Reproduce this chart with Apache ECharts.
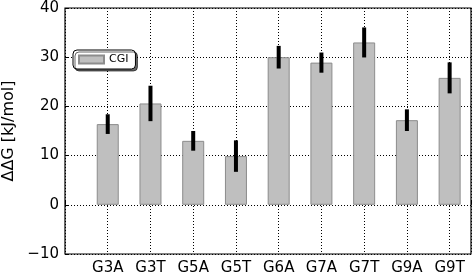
<!DOCTYPE html>
<html>
<head>
<meta charset="utf-8">
<script src="https://cdn.jsdelivr.net/npm/echarts@6/dist/echarts.min.js"></script>
<style>
  html, body { margin: 0; padding: 0; background: #fff; }
  #main { width: 475px; height: 277px; }
</style>
</head>
<body>
<div id="main"></div>
<script>
const categories = ['G3A', 'G3T', 'G5A', 'G5T', 'G6A', 'G7A', 'G7T', 'G9A', 'G9T'];
const values = [16.4, 20.6, 13.0, 9.9, 30.0, 28.9, 33.0, 17.2, 25.8];
const errors = [2.0, 3.6, 2.0, 3.2, 2.3, 2.05, 3.05, 2.2, 3.15];
const yTicks = [-10, 0, 10, 20, 30, 40];

const chartDom = document.getElementById('main');
const myChart = echarts.init(chartDom, null, { renderer: 'canvas' });
const font = 'DejaVu Sans, sans-serif';

const barData = values.map((v, i) => [i + 1, v]);
const errData = values.map((v, i) => [i + 1, v - errors[i], v + errors[i]]);

const option = {
    animation: false,
    grid: {
        left: 65, top: 8, right: 4, bottom: 23,
        outerBoundsMode: 'none',
        containLabel: false,
        show: true,
        borderColor: '#000',
        borderWidth: 1.2
    },
    legend: {
        data: ['CGI'],
        left: 73, top: 50,
        padding: [4, 7, 4, 5],
        itemWidth: 25, itemHeight: 8,
        itemGap: 6,
        backgroundColor: '#fff',
        borderColor: '#000',
        borderWidth: 1,
        borderRadius: 4,
        shadowColor: 'rgba(0,0,0,0.6)',
        shadowOffsetX: 2, shadowOffsetY: 2, shadowBlur: 0,
        icon: 'rect',
        textStyle: { fontFamily: font, fontSize: 11, color: '#000' }
    },
    xAxis: {
        type: 'value',
        min: 0, max: 9.5, interval: 1,
        axisLine: { show: false },
        axisTick: { show: true, inside: true, length: 4, lineStyle: { color: '#000' } },
        splitLine: { show: true, lineStyle: { color: '#000', type: [1, 2], width: 1 } },
        axisLabel: {
            fontFamily: font, fontSize: 15, color: '#000', margin: 7,
            formatter: v => (Number.isInteger(v) && v >= 1 && v <= categories.length) ? categories[v - 1] : ''
        }
    },
    yAxis: {
        type: 'value',
        min: yTicks[0], max: yTicks[yTicks.length - 1], interval: 10,
        name: 'ΔΔG [kJ/mol]',
        nameLocation: 'middle',
        nameGap: 47,
        nameTextStyle: { fontFamily: font, fontSize: 16, color: '#000' },
        axisLine: { show: false },
        axisTick: { show: true, inside: true, length: 4, lineStyle: { color: '#000' } },
        splitLine: { show: true, lineStyle: { color: '#000', type: [1, 2], width: 1 } },
        axisLabel: {
            fontFamily: font, fontSize: 15, color: '#000', margin: 6,
            formatter: v => String(v).replace('-', '\u2212')
        }
    },
    series: [
        {
            name: 'CGI',
            type: 'bar',
            data: barData,
            barWidth: 22,
            itemStyle: { color: '#bfbfbf', borderColor: '#8c8c8c', borderWidth: 1 },
            z: 2
        },
        {
            type: 'custom',
            data: errData,
            encode: { x: 0, y: [1, 2] },
            renderItem: (params, api) => {
                const lo = api.coord([api.value(0), api.value(1)]);
                const hi = api.coord([api.value(0), api.value(2)]);
                return {
                    type: 'rect',
                    shape: { x: lo[0] - 2, y: hi[1], width: 4, height: lo[1] - hi[1] },
                    style: { fill: '#000' }
                };
            },
            z: 3
        }
    ]
};

myChart.setOption(option);
</script>
</body>
</html>
